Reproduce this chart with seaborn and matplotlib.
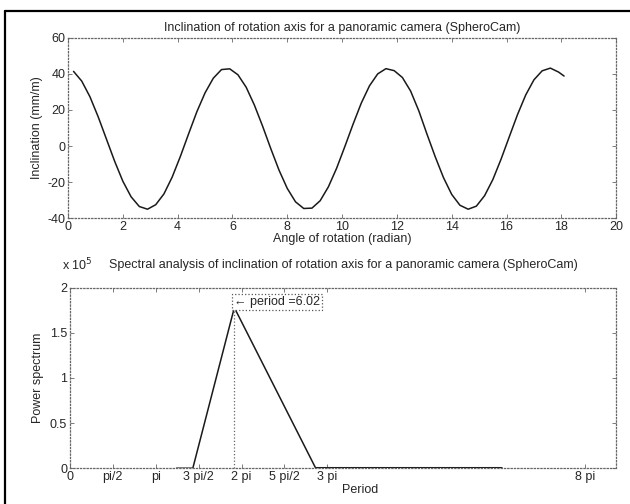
import numpy as np
import pandas as pd
import matplotlib
matplotlib.use("Agg")
import matplotlib.pyplot as plt
import seaborn as sns
from matplotlib.lines import Line2D

# ---------------- data ----------------
angle = [0.2, 0.5, 0.8, 1.1, 1.4, 1.7, 2.0, 2.3, 2.6, 2.9,
         3.2, 3.5, 3.8, 4.1, 4.4, 4.7, 5.0, 5.3, 5.6, 5.9,
         6.2, 6.5, 6.8, 7.1, 7.4, 7.7, 8.0, 8.3, 8.6, 8.9,
         9.2, 9.5, 9.8, 10.1, 10.4, 10.7, 11.0, 11.3, 11.6, 11.9,
         12.2, 12.5, 12.8, 13.1, 13.4, 13.7, 14.0, 14.3, 14.6, 14.9,
         15.2, 15.5, 15.8, 16.1, 16.4, 16.7, 17.0, 17.3, 17.6, 17.9, 18.1]
inclination = [41.4, 36.0, 27.3, 16.2, 3.9, -8.4, -19.5, -28.1, -33.5, -35.0,
               -32.5, -26.5, -17.2, -5.7, 6.8, 19.0, 29.5, 37.6, 42.4, 42.8,
               39.5, 32.6, 22.7, 11.0, -1.5, -13.4, -23.5, -30.9, -34.6, -34.4,
               -30.3, -22.6, -12.3, -0.3, 12.1, 23.8, 33.4, 40.0, 42.9, 41.8,
               38.0, 30.5, 19.5, 6.5, -6.0, -17.5, -26.8, -32.8, -35.0, -33.3,
               -27.5, -18.6, -7.3, 5.1, 17.4, 28.3, 36.7, 41.7, 43.2, 41.0, 38.8]

period = [3.9, 4.5, 6.02, 9.0]
power = [0.0, 0.0, 1.78, 0.0]
tail_period = [9.0, 10.5, 12.0, 13.5, 15.8]
tail_power = [0.0, 0.0, 0.0, 0.0, 0.0]

top_xticks = [0, 2, 4, 6, 8, 10, 12, 14, 16, 18, 20]
top_yticks = [-40, -20, 0, 20, 40, 60]
bot_xtick_vals = [0, np.pi / 2, np.pi, 3 * np.pi / 2, 2 * np.pi, 5 * np.pi / 2, 3 * np.pi, 6 * np.pi]
bot_xtick_labels = ["0", "pi/2", "pi", "3 pi/2", "2 pi", "5 pi/2", "3 pi", "8 pi"]
bot_yticks = [0, 0.5, 1, 1.5, 2]
bot_ytick_labels = ["0", "0.5", "1", "1.5", "2"]

# ---------------- style ----------------
sns.set_theme(style="white")
plt.rcParams["font.family"] = ["Liberation Sans", "DejaVu Sans"]
plt.rcParams["font.size"] = 9
plt.rcParams["axes.unicode_minus"] = False

fs = 9
fig = plt.figure(figsize=(6.3, 5.04), dpi=100)
ax1 = fig.add_axes([0.108, 0.567, 0.870, 0.358])
ax2 = fig.add_axes([0.111, 0.071, 0.867, 0.358])

line_col = "#1a1a1a"
frame_col = "#666666"

df_top = pd.DataFrame({"angle": angle, "inclination": inclination})
sns.lineplot(data=df_top, x="angle", y="inclination", ax=ax1, color=line_col,
             linewidth=1.1, sort=False, estimator=None)
ax1.set_xlim(0, 20)
ax1.set_ylim(-40, 60)
ax1.set_xticks(top_xticks)
ax1.set_yticks(top_yticks)
ax1.set_title("Inclination of rotation axis for a panoramic camera (SpheroCam)",
              fontsize=fs, pad=5)
ax1.set_xlabel("Angle of rotation (radian)", fontsize=fs, labelpad=0)
ax1.set_ylabel("Inclination (mm/m)", fontsize=fs, labelpad=3)

df_bot = pd.DataFrame({"period": period, "power": power})
df_tail = pd.DataFrame({"period": tail_period, "power": tail_power})
sns.lineplot(data=df_bot, x="period", y="power", ax=ax2, color=line_col,
             linewidth=1.1, sort=False, estimator=None)
sns.lineplot(data=df_tail, x="period", y="power", ax=ax2, color=line_col,
             linewidth=2.2, sort=False, estimator=None)
ipk = int(np.argmax(power))
pk_x, pk_y = period[ipk], power[ipk]
ax2.vlines(pk_x, 0, pk_y, colors="#666666", linestyles=":", linewidth=0.9)
ax2.text(pk_x, pk_y, "\u2190 period =6.02", ha="left", va="bottom", fontsize=fs,
         bbox=dict(boxstyle="square,pad=0.15", facecolor="white",
                   edgecolor="#555555", linestyle=":", linewidth=0.9))
ax2.set_xlim(0, 20)
ax2.set_ylim(0, 2)
ax2.set_xticks(bot_xtick_vals)
ax2.set_xticklabels(bot_xtick_labels)
ax2.set_yticks(bot_yticks)
ax2.set_yticklabels(bot_ytick_labels)
ax2.set_title("Spectral analysis of inclination of rotation axis for a panoramic camera (SpheroCam)",
              fontsize=fs, pad=14)
ax2.set_xlabel("Period", fontsize=fs, labelpad=0)
ax2.xaxis.set_label_coords(0.532, -0.085)
ax2.set_ylabel("Power spectrum", fontsize=fs, labelpad=4)
ax2.text(-0.015, 1.125, r"x 10$^{5}$", transform=ax2.transAxes, ha="left",
         va="center", fontsize=fs)

for ax in (ax1, ax2):
    for s in ax.spines.values():
        s.set_visible(True)
        s.set_color(frame_col)
        s.set_linestyle(":")
        s.set_linewidth(0.9)
    ax.tick_params(direction="in", length=3, width=0.6, color=frame_col,
                   labelsize=fs, pad=2, top=True, right=True, bottom=True, left=True)
    ax.grid(False)

# scanned frame border (left and top)
fig.add_artist(Line2D([0.008, 0.008], [0.0, 0.979], color="black", linewidth=1.6,
                      transform=fig.transFigure))
fig.add_artist(Line2D([0.008, 1.0], [0.979, 0.979], color="black", linewidth=1.6,
                      transform=fig.transFigure))

fig.savefig("out.png", dpi=100, facecolor="white")
